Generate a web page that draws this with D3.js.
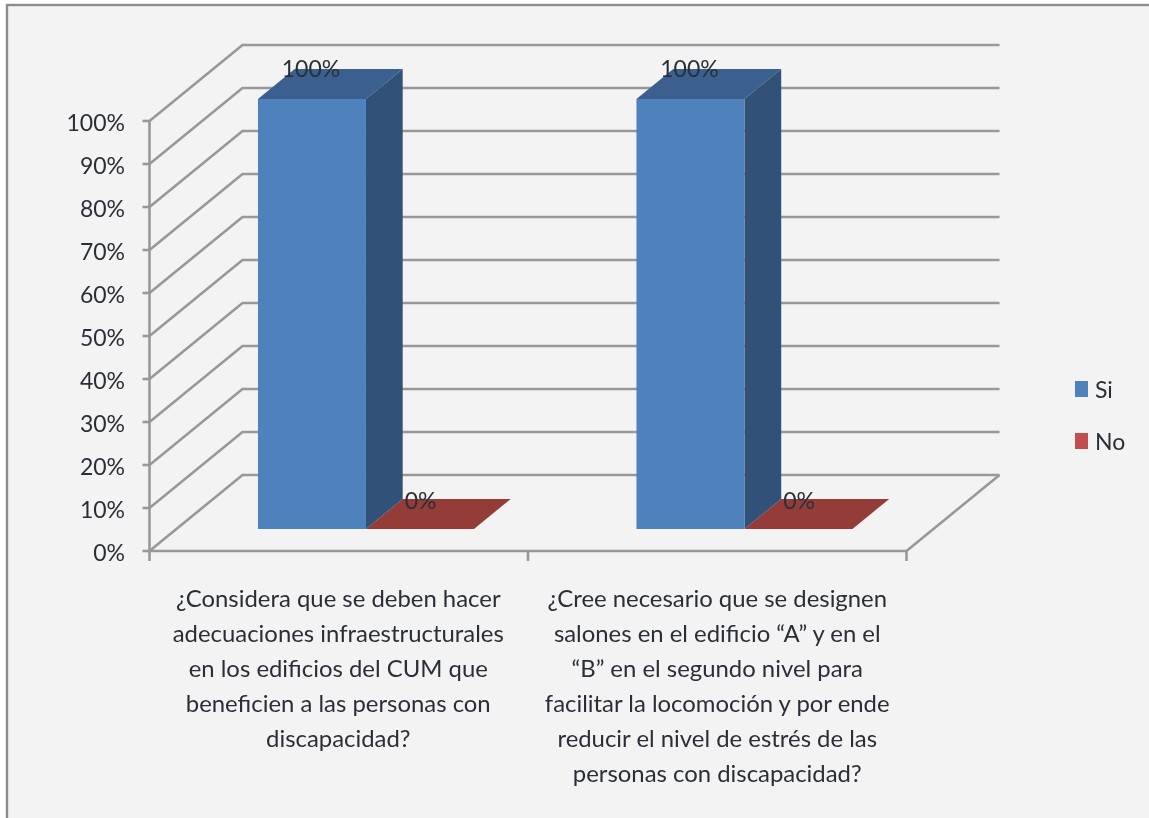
<!DOCTYPE html>
<html>
<head>
<meta charset="utf-8">
<script src="https://cdn.jsdelivr.net/npm/d3@7"></script>
<style>
html, body { margin: 0; padding: 0; background: #fff; overflow: hidden; }
text { font-family: Lato, "Open Sans", sans-serif; fill: #2b2f38; }
</style>
</head>
<body>
<div id="grafico"></div>
<script>
const categories = ['c1', 'c2']
const categoryLines = [
  ['¿Considera que se deben hacer', 'adecuaciones infraestructurales', 'en los edificios del CUM que', 'beneficien a las personas con', 'discapacidad?'],
  ['¿Cree necesario que se designen', 'salones en el edificio “A” y en el', '“B” en el segundo nivel para', 'facilitar la locomoción y por ende', 'reducir el nivel de estrés de las', 'personas con discapacidad?']
]
const seriesNames = ['Si', 'No']
const si = [100, 100]
const no = [0, 0]
const yTicks = [0, 10, 20, 30, 40, 50, 60, 70, 80, 90, 100]

const ancho = 1149, alto = 818
const grid = '#989898'
const colors = {
  Si: { front: '#4f81bd', top: '#3a5f8e', side: '#305178' },
  No: { front: '#c0504d', top: '#943c39', side: '#7c322f' }
}

const svg = d3.select('#grafico').append('svg')
  .attr('width', ancho).attr('height', alto)
  .style('display', 'block')

svg.append('defs').append('filter').attr('id', 'suave')
  .attr('x', 0).attr('y', 0).attr('width', 1).attr('height', 1)
  .append('feGaussianBlur').attr('stdDeviation', 0.7)

const g = svg.append('g').attr('filter', 'url(#suave)')

// fondo y marco
g.append('rect').attr('x', 0).attr('y', 0).attr('width', ancho).attr('height', alto).attr('fill', '#fff')
g.append('rect').attr('x', 7).attr('y', 5).attr('width', ancho).attr('height', alto)
  .attr('fill', '#f3f3f3').attr('stroke', '#8c8c8c').attr('stroke-width', 2.4)

const x = d3.scaleBand().domain(categories).range([149.5, 906.5])
const y = d3.scaleLinear().domain([0, 100]).range([551, 121])
const depthX = d3.scaleLinear().domain([0, 1]).range([0, 93])
const depthY = d3.scaleLinear().domain([0, 1]).range([0, -76])
// dentro de cada categoria, las dos series una al lado de la otra
const inner = d3.scaleBand().domain(seriesNames).range([81.5, 297.5])

const p = (px, val, z) => [px + depthX(z), y(val) + depthY(z)]
const poly = pts => 'M' + pts.map(d => d.join(',')).join('L') + 'Z'

// paredes
const xLeft = x.range()[0], xRight = x.range()[1]
yTicks.forEach(t => {
  g.append('path')
    .attr('d', d3.line()([p(xLeft, t, 0), p(xLeft, t, 1), p(xRight, t, 1)]))
    .attr('fill', 'none').attr('stroke', grid).attr('stroke-width', 2.6)
  g.append('line')
    .attr('x1', xLeft - 7).attr('x2', xLeft)
    .attr('y1', y(t)).attr('y2', y(t))
    .attr('stroke', grid).attr('stroke-width', 2.6)
  g.append('text')
    .attr('x', 125).attr('y', y(t) + 2).attr('dy', '0.35em')
    .attr('text-anchor', 'end').style('font-size', '23px')
    .text(t + '%')
})

// ejes
g.append('line').attr('x1', xLeft).attr('x2', xLeft).attr('y1', y(100)).attr('y2', y(0))
  .attr('stroke', grid).attr('stroke-width', 2.6)
g.append('path')
  .attr('d', d3.line()([p(xLeft, 0, 0), p(xRight, 0, 0), p(xRight, 0, 1)]))
  .attr('fill', 'none').attr('stroke', grid).attr('stroke-width', 2.6)
const xTicks = categories.map(c => x(c)).concat(xRight)
xTicks.forEach(t => {
  g.append('line').attr('x1', t).attr('x2', t).attr('y1', y(0)).attr('y2', y(0) + 10)
    .attr('stroke', grid).attr('stroke-width', 2.6)
})

// barras
const zFront = 0.29, zBack = 0.685
function bar(cat, name, val) {
  const c = colors[name]
  const x0 = x(cat) + inner(name)
  const x1 = x0 + inner.bandwidth()
  if (val > 0) {
    g.append('path').attr('d', poly([p(x1, 0, zFront), p(x1, 0, zBack), p(x1, val, zBack), p(x1, val, zFront)])).attr('fill', c.side)
    g.append('path').attr('d', poly([p(x0, val, zFront), p(x1, val, zFront), p(x1, val, zBack), p(x0, val, zBack)])).attr('fill', c.top)
    g.append('path').attr('d', poly([p(x0, 0, zFront), p(x1, 0, zFront), p(x1, val, zFront), p(x0, val, zFront)])).attr('fill', c.front)
  } else {
    g.append('path').attr('d', poly([p(x0, 0, zFront), p(x1, 0, zFront), p(x1, 0, zBack), p(x0, 0, zBack)])).attr('fill', c.top)
  }
}
categories.forEach((cat, i) => {
  bar(cat, 'No', no[i])
  bar(cat, 'Si', si[i])
})

// etiquetas de datos
categories.forEach((cat, i) => {
  const a = p(x(cat) + inner('Si'), si[i], zBack)
  g.append('text').attr('x', a[0] - 13).attr('y', a[1] + 8)
    .style('font-size', '23px').text(si[i] + '%')
  const b = p(x(cat) + inner('No'), no[i], zBack)
  g.append('text').attr('x', b[0] + 2).attr('y', b[1] + 10)
    .style('font-size', '23px').text(no[i] + '%')
})

// etiquetas de categoria
categories.forEach((cat, i) => {
  const cx = x(cat) + x.bandwidth() / 2 - (i === 0 ? 0.5 : 0)
  g.append('text').attr('text-anchor', 'middle')
    .style('font-size', '23.9px')
    .selectAll('tspan').data(categoryLines[i]).enter().append('tspan')
    .attr('x', cx)
    .attr('y', (d, j) => 606.5 + j * 35)
    .text(d => d)
})

// leyenda
seriesNames.forEach((name, i) => {
  const ly = 389 + i * 52
  g.append('rect').attr('x', 1075).attr('y', ly - 8).attr('width', 13).attr('height', 16)
    .attr('fill', colors[name].front)
  g.append('text').attr('x', 1095).attr('y', ly + 1).attr('dy', '0.35em')
    .style('font-size', '23px').text(name)
})
</script>
</body>
</html>
